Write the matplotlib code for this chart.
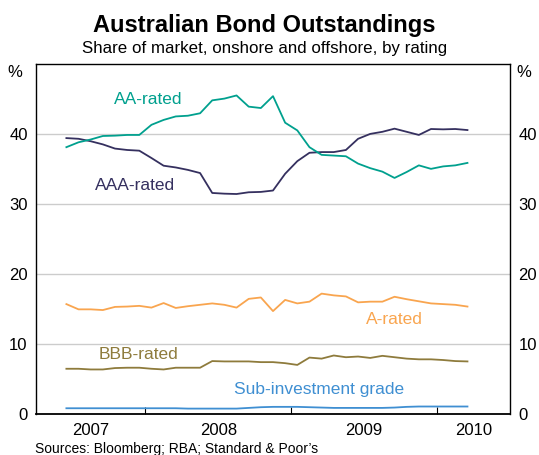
import numpy as np
import matplotlib
matplotlib.use('Agg')
import matplotlib.pyplot as plt

plt.rcParams['font.family'] = ['Liberation Sans', 'DejaVu Sans']

# monthly, Jun 2007 - Mar 2010
months = [(2007, m) for m in range(6, 13)] + [(2008, m) for m in range(1, 13)] + \
         [(2009, m) for m in range(1, 13)] + [(2010, m) for m in range(1, 4)]

aaa = [39.4, 39.3, 38.95, 38.5, 37.9, 37.7, 37.6, 36.55, 35.45, 35.2, 34.85, 34.4,
       31.55, 31.45, 31.4, 31.65, 31.7, 31.9, 34.3, 36.1, 37.3, 37.4, 37.4, 37.7,
       39.3, 40.0, 40.3, 40.75, 40.3, 39.85, 40.7, 40.65, 40.7, 40.55]
aa = [38.1, 38.8, 39.2, 39.7, 39.75, 39.85, 39.85, 41.3, 42.0, 42.5, 42.6, 42.95,
      44.8, 45.05, 45.5, 43.9, 43.7, 45.4, 41.6, 40.5, 38.1, 37.0, 36.9, 36.8,
      35.75, 35.1, 34.6, 33.7, 34.55, 35.5, 35.0, 35.35, 35.5, 35.85]
a_rated = [15.65, 14.9, 14.9, 14.8, 15.25, 15.3, 15.4, 15.15, 15.8, 15.1, 15.35, 15.55,
           15.75, 15.55, 15.15, 16.4, 16.6, 14.65, 16.25, 15.75, 16.0, 17.15, 16.9, 16.75,
           15.9, 16.0, 16.0, 16.7, 16.35, 16.05, 15.75, 15.65, 15.55, 15.3]
bbb = [6.4, 6.4, 6.3, 6.3, 6.5, 6.55, 6.55, 6.4, 6.3, 6.55, 6.55, 6.55,
       7.5, 7.45, 7.45, 7.45, 7.35, 7.35, 7.2, 6.95, 8.0, 7.85, 8.3, 8.05,
       8.15, 7.95, 8.25, 8.05, 7.85, 7.75, 7.75, 7.65, 7.5, 7.45]
sub_ig = [0.75, 0.75, 0.75, 0.75, 0.75, 0.75, 0.75, 0.75, 0.75, 0.75, 0.7, 0.7,
          0.7, 0.7, 0.7, 0.8, 0.9, 0.95, 0.95, 0.95, 0.9, 0.85, 0.8, 0.8,
          0.8, 0.8, 0.8, 0.85, 0.95, 1.0, 1.0, 1.0, 1.0, 1.0]

x = np.array([y + (m - 0.5) / 12 for y, m in months])

c_aaa = '#35305F'
c_aa = '#00A08E'
c_a = '#F9A54F'
c_bbb = '#8E7B3C'
c_sub = '#3F8FD2'

fig = plt.figure(figsize=(5.39, 4.55), dpi=100)
ax = fig.add_axes([36 / 539, 1 - 413.5 / 455, 474 / 539, 349.5 / 455])

lw = 1.3
ax.plot(x, aaa, color=c_aaa, lw=lw)
ax.plot(x, aa, color=c_aa, lw=lw)
ax.plot(x, a_rated, color=c_a, lw=lw)
ax.plot(x, bbb, color=c_bbb, lw=lw)
ax.plot(x, sub_ig, color=c_sub, lw=lw)

xmin, xmax = 2007.25, 2010.5
ax.set_xlim(xmin, xmax)
ax.set_ylim(0, 50)

for yv in [10, 20, 30, 40]:
    ax.axhline(yv, color='#cccccc', lw=1.0, zorder=0)

# year boundaries as ticks, year labels centred in the visible part of each year
ax.set_xticks([2008, 2009, 2010])
ax.set_xticklabels([])
ax.tick_params(axis='x', which='major', direction='in', length=5, width=0.8)
years = [2007, 2008, 2009, 2010]
mids = [(max(y, xmin) + min(y + 1, xmax)) / 2 for y in years]
ax.set_xticks(mids, minor=True)
ax.set_xticklabels([str(y) for y in years], minor=True, fontsize=12)
ax.tick_params(axis='x', which='minor', length=0, pad=7)

ax.set_yticks([0, 10, 20, 30, 40])
ax.tick_params(axis='y', length=0, labelsize=12, pad=6, labelright=True)

for s in ['left', 'right', 'top']:
    ax.spines[s].set_linewidth(1.0)
ax.spines['bottom'].set_linewidth(1.3)

ax.text(-0.045, 0.975, '%', transform=ax.transAxes, fontsize=12, ha='center', va='center')
ax.text(1.03, 0.975, '%', transform=ax.transAxes, fontsize=12, ha='center', va='center')

fs = 12.5
ax.text(2008.02, 44.9, 'AA-rated', color=c_aa, fontsize=fs, ha='center', va='center')
ax.text(2007.93, 32.6, 'AAA-rated', color=c_aaa, fontsize=fs, ha='center', va='center')
ax.text(2009.71, 13.5, 'A-rated', color=c_a, fontsize=fs, ha='center', va='center')
ax.text(2007.95, 8.4, 'BBB-rated', color=c_bbb, fontsize=fs, ha='center', va='center')
ax.text(2009.19, 3.4, 'Sub-investment grade', color=c_sub, fontsize=fs, ha='center', va='center')

fig.text(264.5 / 539, 1 - 32 / 455, 'Australian Bond Outstandings', fontsize=17,
         fontweight='bold', ha='center', va='baseline')
fig.text(264.5 / 539, 1 - 53 / 455, 'Share of market, onshore and offshore, by rating',
         fontsize=12.2, ha='center', va='baseline')
fig.text(35 / 539, 1 - 453 / 455, "Sources: Bloomberg; RBA; Standard & Poor\u2019s",
         fontsize=10, ha='left', va='baseline')

fig.savefig('out.png', dpi=100)
